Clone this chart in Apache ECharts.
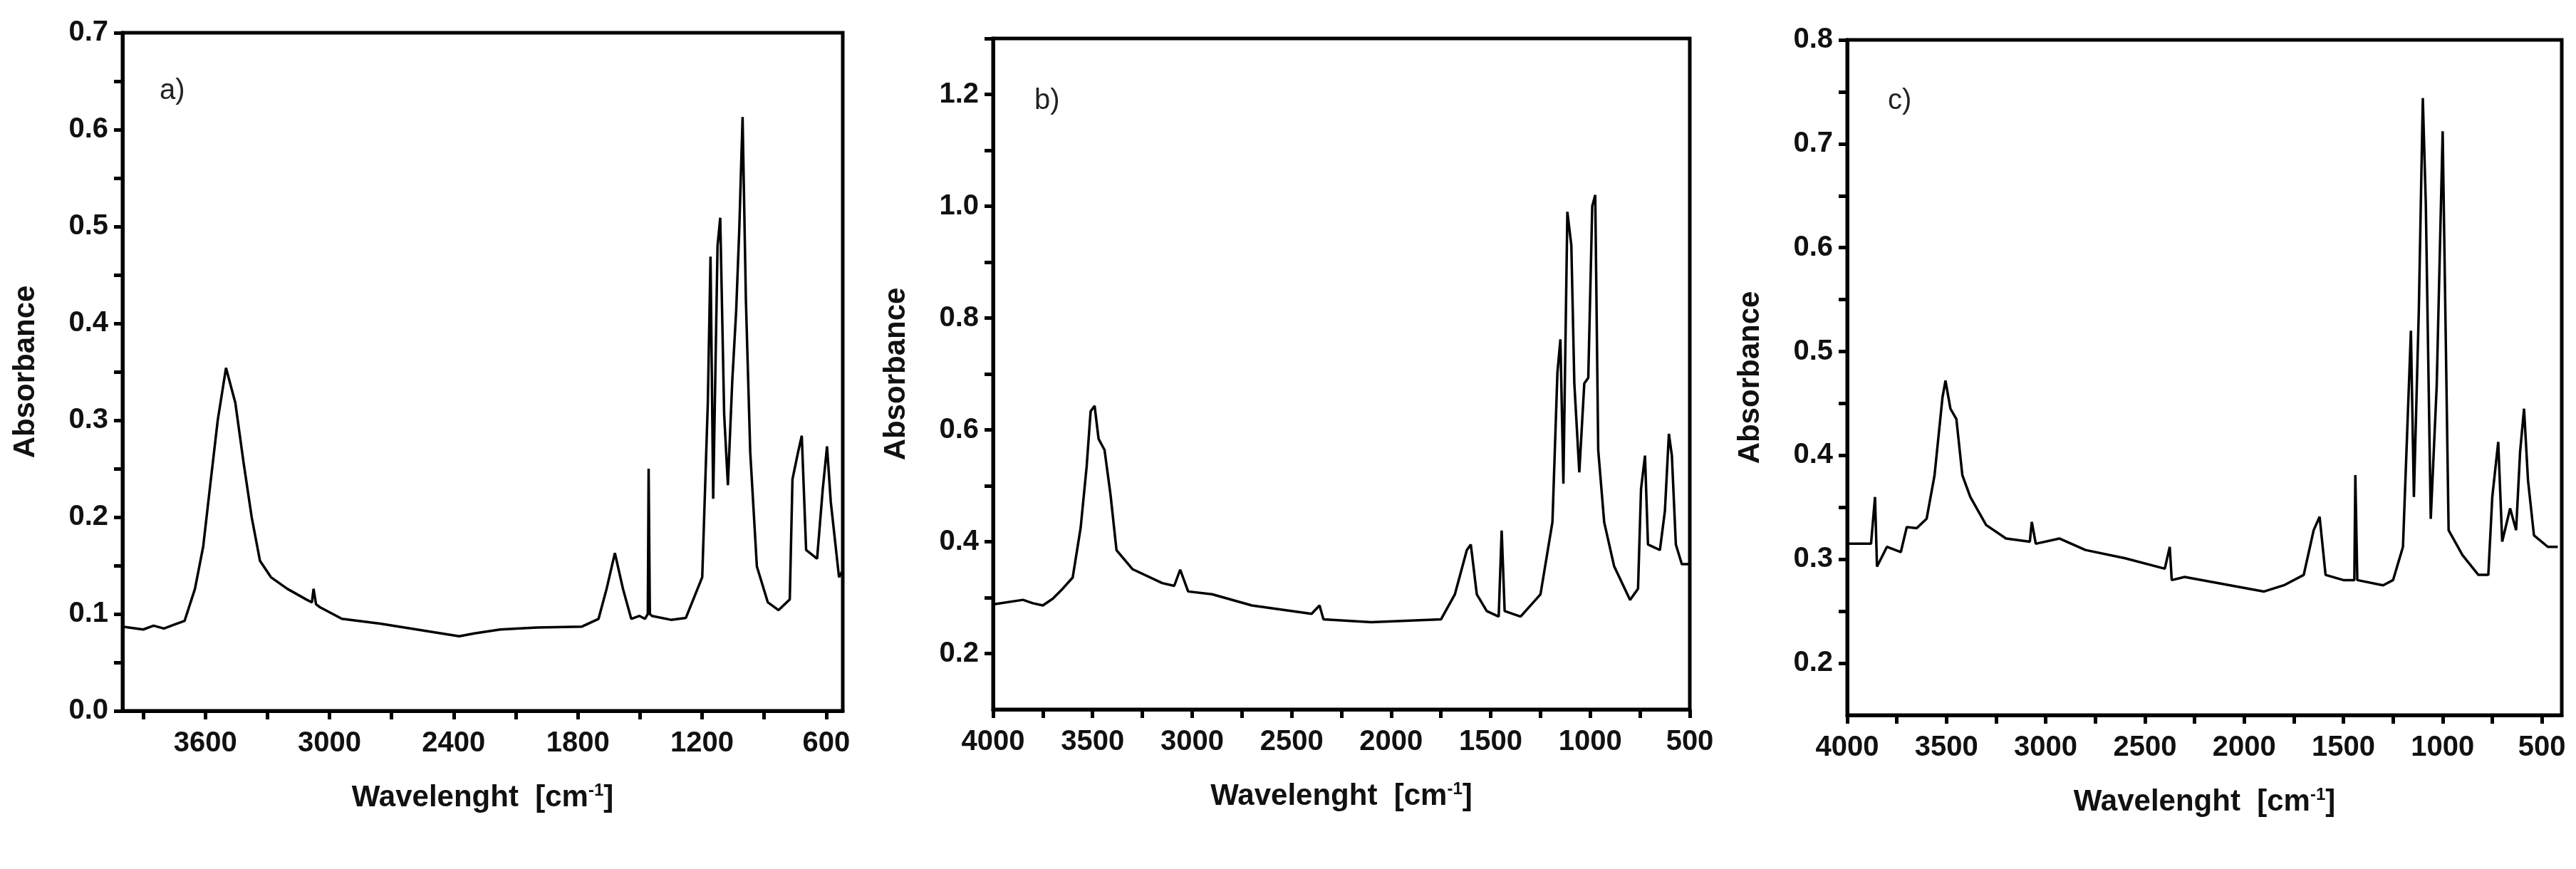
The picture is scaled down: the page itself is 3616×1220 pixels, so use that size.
<!DOCTYPE html>
<html><head><meta charset="utf-8">
<script src="https://cdn.jsdelivr.net/npm/echarts@6/dist/echarts.min.js"></script>
<style>html,body{margin:0;background:#fff}#c{width:3616px;height:1220px}</style>
</head><body><div id="c"></div>
<script>
const specA = [[4000,0.087],[3900,0.084],[3850,0.088],[3800,0.085],[3750,0.089],[3700,0.093],[3650,0.126],[3610,0.17],[3579,0.228],[3540,0.30],[3500,0.354],[3455,0.318],[3415,0.256],[3376,0.2],[3336,0.155],[3283,0.138],[3204,0.126],[3112,0.115],[3085,0.112],[3077,0.126],[3065,0.11],[3046,0.107],[2940,0.095],[2756,0.09],[2492,0.081],[2373,0.077],[2300,0.08],[2175,0.084],[2000,0.086],[1780,0.087],[1700,0.095],[1661,0.126],[1621,0.163],[1582,0.126],[1542,0.095],[1502,0.098],[1476,0.095],[1462,0.10],[1458,0.25],[1452,0.10],[1442,0.098],[1350,0.094],[1278,0.096],[1199,0.138],[1172,0.318],[1159,0.469],[1146,0.219],[1125,0.48],[1112,0.509],[1093,0.306],[1075,0.233],[1054,0.34],[1035,0.413],[1020,0.497],[1004,0.613],[988,0.424],[967,0.267],[935,0.149],[882,0.112],[830,0.104],[776,0.115],[763,0.239],[736,0.267],[718,0.284],[697,0.166],[644,0.157],[617,0.228],[596,0.273],[578,0.216],[538,0.138],[520,0.145]];
const specB = [[4000,0.288],[3850,0.296],[3800,0.29],[3750,0.286],[3700,0.298],[3650,0.316],[3600,0.336],[3560,0.425],[3530,0.534],[3510,0.633],[3490,0.643],[3470,0.584],[3440,0.564],[3410,0.484],[3380,0.385],[3300,0.351],[3150,0.326],[3090,0.321],[3060,0.35],[3020,0.311],[2900,0.306],[2700,0.286],[2400,0.271],[2360,0.286],[2340,0.261],[2100,0.256],[1750,0.261],[1680,0.306],[1620,0.385],[1600,0.395],[1570,0.306],[1520,0.276],[1460,0.266],[1445,0.42],[1430,0.276],[1350,0.266],[1250,0.306],[1190,0.435],[1165,0.702],[1150,0.762],[1135,0.504],[1115,0.99],[1095,0.93],[1080,0.683],[1055,0.524],[1030,0.683],[1010,0.693],[990,1.0],[975,1.02],[960,0.564],[930,0.435],[880,0.356],[800,0.296],[760,0.316],[745,0.494],[725,0.554],[710,0.395],[650,0.385],[625,0.455],[605,0.593],[590,0.554],[570,0.395],[540,0.36],[500,0.36]];
const specC = [[4000,0.315],[3880,0.315],[3860,0.36],[3850,0.293],[3800,0.312],[3730,0.307],[3700,0.331],[3650,0.33],[3600,0.339],[3560,0.381],[3520,0.456],[3505,0.472],[3480,0.445],[3450,0.435],[3420,0.381],[3380,0.36],[3300,0.333],[3200,0.32],[3080,0.317],[3070,0.336],[3050,0.315],[2930,0.32],[2800,0.309],[2600,0.301],[2400,0.291],[2375,0.312],[2365,0.28],[2300,0.283],[2100,0.276],[1900,0.269],[1800,0.275],[1700,0.285],[1650,0.328],[1620,0.341],[1590,0.285],[1500,0.28],[1445,0.28],[1440,0.381],[1430,0.28],[1300,0.275],[1250,0.28],[1200,0.312],[1160,0.52],[1145,0.36],[1120,0.541],[1100,0.744],[1085,0.643],[1060,0.339],[1030,0.467],[1000,0.712],[985,0.52],[970,0.328],[900,0.304],[820,0.285],[770,0.285],[750,0.36],[720,0.413],[700,0.317],[660,0.349],[630,0.328],[610,0.403],[590,0.445],[570,0.376],[540,0.323],[470,0.312],[420,0.312]];

const xLabelsA = [600,1200,1800,2400,3000,3600];
const xTicksA = [600,900,1200,1500,1800,2100,2400,2700,3000,3300,3600,3900];
const yLabelsA = [0,0.1,0.2,0.3,0.4,0.5,0.6,0.7];
const yTicksA = [0,0.05,0.1,0.15,0.2,0.25,0.3,0.35,0.4,0.45,0.5,0.55,0.6,0.65,0.7];
const xLabelsBC = [500,1000,1500,2000,2500,3000,3500,4000];
const xTicksBC = [500,750,1000,1250,1500,1750,2000,2250,2500,2750,3000,3250,3500,3750,4000];
const yLabelsB = [0.2,0.4,0.6,0.8,1.0,1.2];
const yTicksB = [0.2,0.3,0.4,0.5,0.6,0.7,0.8,0.9,1.0,1.1,1.2,1.3];
const yLabelsC = [0.2,0.3,0.4,0.5,0.6,0.7,0.8];
const yTicksC = [0.2,0.25,0.3,0.35,0.4,0.45,0.5,0.55,0.6,0.65,0.7,0.75,0.8];

const F = '"Liberation Sans", Arial, sans-serif';
const lab = {fontFamily:F,fontWeight:'bold',fontSize:40,color:'#111'};
const grids = [
 {left:172,top:46,width:1011,height:952},
 {left:1394,top:54,width:978,height:942},
 {left:2593,top:56,width:1003,height:948}
];
grids.forEach(g=>{g.show=true;g.borderColor='#000';g.borderWidth=5;g.containLabel=false;});
function xAx(i,min,max,labels,ticks){
 return {type:'value',gridIndex:i,min,max,inverse:true,splitLine:{show:false},
  axisLine:{lineStyle:{color:'#000',width:5}},
  axisTick:{customValues:ticks,length:12,lineStyle:{width:5,color:'#000'}},
  axisLabel:Object.assign({customValues:labels,margin:26,formatter:v=>String(v)},lab),
  name:'{a|Wavelenght  [cm}{s|-1}{a|]}',nameLocation:'middle',nameGap:100,
  nameTextStyle:{rich:{a:Object.assign({},lab,{fontSize:42}),s:Object.assign({},lab,{fontSize:24,verticalAlign:'top',padding:[0,0,20,0]})}}};
}
function yAx(i,min,max,labels,ticks,dec){
 return {type:'value',gridIndex:i,min,max,splitLine:{show:false},
  axisLine:{lineStyle:{color:'#000',width:5}},
  axisTick:{customValues:ticks,length:12,lineStyle:{width:5,color:'#000'}},
  axisLabel:Object.assign({customValues:labels,margin:20,formatter:v=>v.toFixed(dec)},lab),
  name:'Absorbance',nameLocation:'middle',nameGap:115,nameTextStyle:Object.assign({},lab,{fontSize:42})};
}
const ser = (i,d)=>({type:'line',xAxisIndex:i,yAxisIndex:i,data:d,showSymbol:false,smooth:false,
  lineStyle:{color:'#000',width:3.5},silent:true});
const chart = echarts.init(document.getElementById('c'));
chart.setOption({
 animation:false,backgroundColor:'#fff',
 grid:grids,
 xAxis:[xAx(0,520,4000,xLabelsA,xTicksA),xAx(1,500,4000,xLabelsBC,xTicksBC),xAx(2,400,4000,xLabelsBC,xTicksBC)],
 yAxis:[yAx(0,0,0.7,yLabelsA,yTicksA,1),yAx(1,0.1,1.3,yLabelsB,yTicksB,1),yAx(2,0.15,0.8,yLabelsC,yTicksC,1)],
 series:[ser(0,specA),ser(1,specB),ser(2,specC)],
 graphic:[
  {type:'text',left:224,top:108,style:{text:'a)',font:'40px '+F,fill:'#222'}},
  {type:'text',left:1452,top:122,style:{text:'b)',font:'40px '+F,fill:'#222'}},
  {type:'text',left:2650,top:122,style:{text:'c)',font:'40px '+F,fill:'#222'}}
 ]
});
</script></body></html>
